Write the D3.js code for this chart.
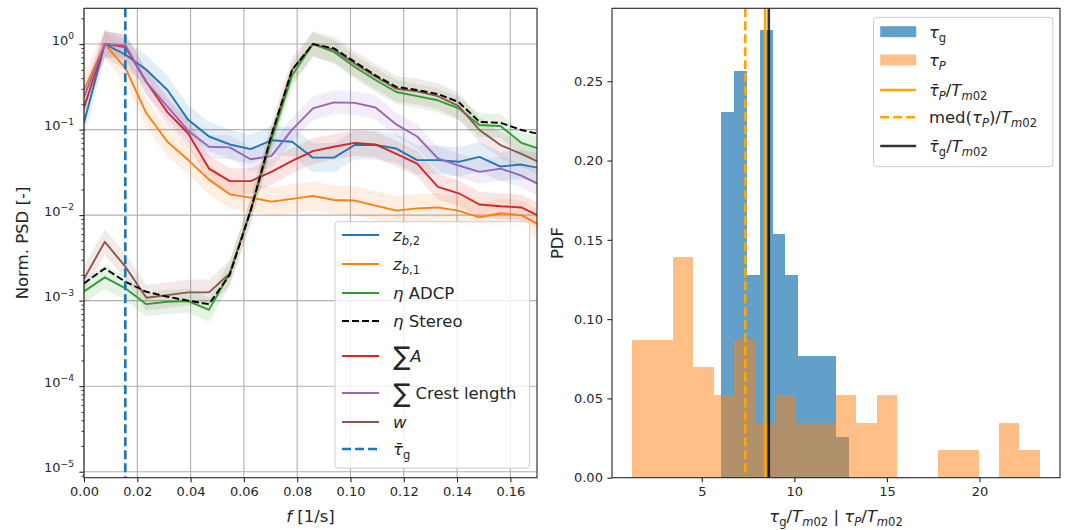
<!DOCTYPE html>
<html lang="en">
<head>
<meta charset="utf-8">
<title>Normalised PSD and period PDF</title>
<style>
  body { margin: 0; background: #fff; }
  svg { display: block; font-family: "DejaVu Sans", sans-serif; }
</style>
</head>
<body>
<svg id="chart" width="1072" height="530"></svg>
<script src="https://cdnjs.cloudflare.com/ajax/libs/d3/7.8.5/d3.min.js"></script>
<script>
// ---- left panel: normalised spectra (f in 1/s) ----
const freqs = [0, 0.0078, 0.0156, 0.0234, 0.0313, 0.0391, 0.0469, 0.0547, 0.0625, 0.0703, 0.0781, 0.0859,
  0.0938, 0.1016, 0.1094, 0.1172, 0.1250, 0.1328, 0.1406, 0.1484, 0.1563, 0.1641, 0.1719];
const zb2 = [0.12, 1.0, 0.75, 0.50, 0.29, 0.13, 0.083, 0.067, 0.059, 0.075, 0.072, 0.047,
  0.047, 0.066, 0.066, 0.060, 0.044, 0.044, 0.042, 0.048, 0.037, 0.039, 0.035];
const zb1 = [0.29, 1.0, 0.52, 0.155, 0.072, 0.044, 0.026, 0.0175, 0.016, 0.0144, 0.0155, 0.0168,
  0.015, 0.0148, 0.0129, 0.0113, 0.012, 0.0123, 0.0112, 0.0094, 0.0105, 0.010, 0.0074];
const etaAdcp = [0.00128, 0.00187, 0.00139, 0.00091, 0.00097, 0.00099, 0.00078, 0.0021, 0.0112, 0.075, 0.43, 1.0,
  0.81, 0.54, 0.38, 0.275, 0.246, 0.22, 0.177, 0.113, 0.11, 0.07, 0.058];
const etaStereo = [0.00159, 0.00238, 0.00166, 0.00127, 0.00111, 0.0010, 0.00091, 0.0020, 0.0112, 0.085, 0.50, 1.0,
  0.89, 0.62, 0.43, 0.316, 0.29, 0.26, 0.21, 0.123, 0.12, 0.099, 0.087];
const sumA = [0.18, 1.0, 0.92, 0.36, 0.16, 0.09, 0.035, 0.025, 0.025, 0.032, 0.043, 0.056,
  0.063, 0.070, 0.067, 0.052, 0.040, 0.0214, 0.018, 0.0133, 0.0127, 0.0123, 0.0094];
const sumCrest = [0.24, 1.0, 0.96, 0.36, 0.185, 0.097, 0.063, 0.062, 0.045, 0.049, 0.10, 0.177,
  0.208, 0.205, 0.181, 0.115, 0.083, 0.046, 0.038, 0.032, 0.035, 0.029, 0.022];
const wSpec = [0.0018, 0.00487, 0.00248, 0.00108, 0.00116, 0.00125, 0.00125, 0.00208, 0.0112, 0.085, 0.50, 1.0,
  0.86, 0.59, 0.415, 0.30, 0.28, 0.246, 0.188, 0.099, 0.066, 0.052, 0.04];
// half width of the shaded band, in decades
const bandSpread = [0.17, 0.17, 0.14, 0, 0.15, 0.14, 0.15];
const tauGFreq = 0.0155;
const xTicksL = [0, 0.02, 0.04, 0.06, 0.08, 0.10, 0.12, 0.14, 0.16];
const yTicksL = [1e-5, 1e-4, 1e-3, 1e-2, 1e-1, 1];
const yTickExp = ['−5', '−4', '−3', '−2', '−1', '0'];

// ---- right panel: histograms of tau / Tm02 ----
const tauGEdges = [6.06, 6.75, 7.44, 8.13, 8.82, 9.51, 10.2, 10.89, 11.58, 12.27, 12.96];
const tauGDensity = [0.2307, 0.2563, 0.128, 0.2821, 0.1538, 0.128, 0.0769, 0.0769, 0.0769, 0.0256];
const tauPEdges = [1.25, 2.35, 3.45, 4.55, 5.65, 6.75, 7.85, 8.95, 10.05, 11.15, 12.25,
  13.35, 14.45, 15.55, 16.65, 17.75, 18.85, 19.95, 21.05, 22.15, 23.25];
const tauPDensity = [0.087, 0.087, 0.139, 0.0695, 0.052, 0.087, 0.0348, 0.052, 0.0348, 0.0348,
  0.052, 0.0348, 0.052, 0, 0, 0.0174, 0.0174, 0, 0.0348, 0.0174];
const meanTauP = 8.42;
const medTauP = 7.35;
const meanTauG = 8.62;
const xTicksR = [5, 10, 15, 20];
const yTicksR = [0, 0.05, 0.10, 0.15, 0.20, 0.25];

const svg = d3.select('#chart');
const FS_TICK = 13, FS_LAB = 16.5;
const L = {x0: 84, x1: 537, y0: 8.3, y1: 477.7};
const R = {x0: 612, x1: 1060, y0: 8.3, y1: 477.7};

const xL = d3.scaleLinear().domain([0, 0.17]).range([L.x0, L.x1]);
const yL = d3.scaleLog().domain([Math.pow(10, -5.07), Math.pow(10, 0.418)]).range([L.y1, L.y0]);
const xR = d3.scaleLinear().domain([0.15, 24.35]).range([R.x0, R.x1]);
const yR = d3.scaleLinear().domain([0, 0.296]).range([R.y1, R.y0]);

// mathtext-ish labels made of tspans
function rich(text, parts, fs) {
  let shift = 0;
  parts.forEach(function(p) {
    const size = p.s ? fs * p.s : ((p.sub || p.sup) ? fs * 0.7 : fs);
    const target = (p.sub ? fs * 0.24 : p.sup ? -fs * 0.42 : 0) + (p.dy || 0);
    text.append('tspan')
      .attr('dy', target - shift)
      .attr('font-size', size)
      .attr('font-style', p.i ? 'italic' : null)
      .text(p.t);
    shift = target;
  });
}

function styleAxis(g) {
  g.attr('font-family', null).attr('font-size', FS_TICK).attr('color', '#262626');
  g.select('.domain').remove();
  g.selectAll('.tick line').attr('stroke-width', 1.1);
}

// ================= left panel =================
const left = svg.append('g');
left.append('defs').append('clipPath').attr('id', 'clipL')
  .append('rect').attr('x', L.x0).attr('y', L.y0).attr('width', L.x1 - L.x0).attr('height', L.y1 - L.y0);

// grid
left.append('g').selectAll('line.gx').data(xTicksL).join('line')
  .attr('x1', d => xL(d)).attr('x2', d => xL(d)).attr('y1', L.y0).attr('y2', L.y1)
  .attr('stroke', '#b0b0b0').attr('stroke-width', 1.1);
left.append('g').selectAll('line.gy').data(yTicksL).join('line')
  .attr('y1', d => yL(d)).attr('y2', d => yL(d)).attr('x1', L.x0).attr('x2', L.x1)
  .attr('stroke', '#b0b0b0').attr('stroke-width', 1.1);

const series = [
  {name: 'zb2', vals: zb2, color: '#1f77b4'},
  {name: 'zb1', vals: zb1, color: '#ff7f0e'},
  {name: 'adcp', vals: etaAdcp, color: '#2ca02c'},
  {name: 'stereo', vals: etaStereo, color: '#000000', dash: '7,3'},
  {name: 'sumA', vals: sumA, color: '#d62728'},
  {name: 'crest', vals: sumCrest, color: '#9467bd'},
  {name: 'w', vals: wSpec, color: '#8c564b'}
];

const plotL = left.append('g').attr('clip-path', 'url(#clipL)');
series.forEach(function(s, i) {
  const k = Math.pow(10, bandSpread[i]);
  if (bandSpread[i] > 0) {
    const area = d3.area()
      .x((d, j) => xL(freqs[j]))
      .y0(d => yL(d / k))
      .y1(d => yL(d * k));
    plotL.append('path').datum(s.vals)
      .attr('d', area).attr('fill', s.color).attr('fill-opacity', 0.12);
  }
});
const lineL = d3.line().x((d, j) => xL(freqs[j])).y(d => yL(d));
// draw order: coloured lines first, dashed stereo on top
[0, 1, 2, 4, 5, 6, 3].forEach(function(i) {
  const s = series[i];
  plotL.append('path').datum(s.vals)
    .attr('d', lineL).attr('fill', 'none').attr('stroke', s.color)
    .attr('stroke-width', 1.9).attr('stroke-dasharray', s.dash || null)
    .attr('stroke-linejoin', 'round');
});
plotL.append('line')
  .attr('x1', xL(tauGFreq)).attr('x2', xL(tauGFreq)).attr('y1', L.y0).attr('y2', L.y1)
  .attr('stroke', '#1f77b4').attr('stroke-width', 2.7).attr('stroke-dasharray', '9,4');

// axes
const gxL = left.append('g').attr('transform', 'translate(0,' + L.y1 + ')')
  .call(d3.axisBottom(xL).tickValues(xTicksL).tickFormat(d3.format('.2f')).tickSize(4.6).tickPadding(4));
styleAxis(gxL);

const minorL = [];
for (let e = -6; e <= 0; e++) for (let m = 2; m <= 9; m++) {
  const v = m * Math.pow(10, e);
  if (v >= yL.domain()[0] && v <= yL.domain()[1]) minorL.push(v);
}
const gyLm = left.append('g').attr('transform', 'translate(' + L.x0 + ',0)')
  .call(d3.axisLeft(yL).tickValues(minorL).tickFormat('').tickSize(2.6));
styleAxis(gyLm);
gyLm.selectAll('.tick line').attr('stroke-width', 0.9);
const gyL = left.append('g').attr('transform', 'translate(' + L.x0 + ',0)')
  .call(d3.axisLeft(yL).tickValues(yTicksL).tickFormat('').tickSize(4.6));
styleAxis(gyL);
gyL.selectAll('.tick').each(function(d, i) {
  const t = d3.select(this).append('text').attr('fill', 'currentColor')
    .attr('x', -10).attr('dy', '0.36em').attr('text-anchor', 'end');
  rich(t, [{t: '10'}, {t: yTickExp[i], sup: 1}], FS_TICK);
});

left.append('rect').attr('x', L.x0).attr('y', L.y0).attr('width', L.x1 - L.x0).attr('height', L.y1 - L.y0)
  .attr('fill', 'none').attr('stroke', '#262626').attr('stroke-width', 1.1);

const xlabL = left.append('text').attr('x', (L.x0 + L.x1) / 2).attr('y', 522)
  .attr('text-anchor', 'middle').attr('fill', '#262626');
rich(xlabL, [{t: 'f', i: 1}, {t: ' [1/s]'}], FS_LAB);
left.append('text').attr('transform', 'translate(22,' + ((L.y0 + L.y1) / 2) + ') rotate(-90)')
  .attr('text-anchor', 'middle').attr('dominant-baseline', 'central')
  .attr('font-size', FS_LAB).attr('fill', '#262626').text('Norm. PSD [-]');

// left legend
const legL = left.append('g');
legL.append('rect').attr('x', 335).attr('y', 221.7).attr('width', 194.6).attr('height', 246.3)
  .attr('rx', 3).attr('fill', '#fff').attr('fill-opacity', 0.8).attr('stroke', '#cccccc').attr('stroke-width', 1);
const legLRows = [235, 264, 293, 321, 356, 393, 422, 449];
const legLColors = ['#1f77b4', '#ff7f0e', '#2ca02c', '#000000', '#d62728', '#9467bd', '#8c564b', '#1f77b4'];
const legLDash = [null, null, null, '7,3', null, null, null, '9,4'];
const legLLabels = [
  [{t: 'z', i: 1}, {t: 'b', i: 1, sub: 1}, {t: ',2', sub: 1}],
  [{t: 'z', i: 1}, {t: 'b', i: 1, sub: 1}, {t: ',1', sub: 1}],
  [{t: 'η', i: 1}, {t: ' ADCP'}],
  [{t: 'η', i: 1}, {t: ' Stereo'}],
  [{t: '∑', s: 1.55, dy: 3}, {t: 'A', i: 1}],
  [{t: '∑', s: 1.55, dy: 3}, {t: ' Crest length'}],
  [{t: 'w', i: 1}],
  [{t: 'τ̄', i: 1}, {t: 'g', sub: 1}]
];
legLRows.forEach(function(y, i) {
  legL.append('line').attr('x1', 342).attr('x2', 379).attr('y1', y).attr('y2', y)
    .attr('stroke', legLColors[i]).attr('stroke-width', i === 7 ? 2.7 : 1.9)
    .attr('stroke-dasharray', legLDash[i]);
  const t = legL.append('text').attr('x', 393).attr('y', y + 6).attr('fill', '#262626');
  rich(t, legLLabels[i], FS_LAB);
});

// ================= right panel =================
const right = svg.append('g');
right.append('g').attr('shape-rendering', 'crispEdges').selectAll('rect').data(tauGDensity).join('rect')
  .attr('x', (d, i) => xR(tauGEdges[i]))
  .attr('width', (d, i) => xR(tauGEdges[i + 1]) - xR(tauGEdges[i]))
  .attr('y', d => yR(d)).attr('height', d => yR(0) - yR(d))
  .attr('fill', '#1f77b4').attr('fill-opacity', 0.7);
right.append('g').attr('shape-rendering', 'crispEdges').selectAll('rect').data(tauPDensity).join('rect')
  .attr('x', (d, i) => xR(tauPEdges[i]))
  .attr('width', (d, i) => xR(tauPEdges[i + 1]) - xR(tauPEdges[i]))
  .attr('y', d => yR(d)).attr('height', d => yR(0) - yR(d))
  .attr('fill', '#ff7f0e').attr('fill-opacity', 0.5);

right.append('line').attr('x1', xR(meanTauP)).attr('x2', xR(meanTauP)).attr('y1', R.y0).attr('y2', R.y1)
  .attr('stroke', '#ffa500').attr('stroke-width', 2.6);
right.append('line').attr('x1', xR(medTauP)).attr('x2', xR(medTauP)).attr('y1', R.y0).attr('y2', R.y1)
  .attr('stroke', '#ffa500').attr('stroke-width', 2.6).attr('stroke-dasharray', '9,4');
right.append('line').attr('x1', xR(meanTauG)).attr('x2', xR(meanTauG)).attr('y1', R.y0).attr('y2', R.y1)
  .attr('stroke', '#000').attr('stroke-opacity', 0.8).attr('stroke-width', 2.6);

const gxR = right.append('g').attr('transform', 'translate(0,' + R.y1 + ')')
  .call(d3.axisBottom(xR).tickValues(xTicksR).tickFormat(d3.format('d')).tickSize(4.6).tickPadding(4));
styleAxis(gxR);
const gyR = right.append('g').attr('transform', 'translate(' + R.x0 + ',0)')
  .call(d3.axisLeft(yR).tickValues(yTicksR).tickFormat(d3.format('.2f')).tickSize(4.6).tickPadding(4.5));
styleAxis(gyR);

right.append('rect').attr('x', R.x0).attr('y', R.y0).attr('width', R.x1 - R.x0).attr('height', R.y1 - R.y0)
  .attr('fill', 'none').attr('stroke', '#262626').attr('stroke-width', 1.1);

const xlabR = right.append('text').attr('x', (R.x0 + R.x1) / 2).attr('y', 522)
  .attr('text-anchor', 'middle').attr('fill', '#262626');
rich(xlabR, [{t: 'τ', i: 1}, {t: 'g', sub: 1}, {t: '/'}, {t: 'T', i: 1}, {t: 'm', i: 1, sub: 1}, {t: '02', sub: 1},
  {t: ' | '}, {t: 'τ', i: 1}, {t: 'P', i: 1, sub: 1}, {t: '/'}, {t: 'T', i: 1}, {t: 'm', i: 1, sub: 1}, {t: '02', sub: 1}], FS_LAB);
right.append('text').attr('transform', 'translate(557,' + ((R.y0 + R.y1) / 2) + ') rotate(-90)')
  .attr('text-anchor', 'middle').attr('dominant-baseline', 'central')
  .attr('font-size', FS_LAB).attr('fill', '#262626').text('PDF');

// right legend
const legR = right.append('g');
legR.append('rect').attr('x', 873.5).attr('y', 17.3).attr('width', 179.4).attr('height', 149.4)
  .attr('rx', 3).attr('fill', '#fff').attr('fill-opacity', 0.8).attr('stroke', '#cccccc').attr('stroke-width', 1);
const legRRows = [31.7, 60, 90, 117.3, 146];
const legRLabels = [
  [{t: 'τ', i: 1}, {t: 'g', sub: 1}],
  [{t: 'τ', i: 1}, {t: 'P', i: 1, sub: 1}],
  [{t: 'τ̄', i: 1}, {t: 'P', i: 1, sub: 1}, {t: '/'}, {t: 'T', i: 1}, {t: 'm', i: 1, sub: 1}, {t: '02', sub: 1}],
  [{t: 'med('}, {t: 'τ', i: 1}, {t: 'P', i: 1, sub: 1}, {t: ')/'}, {t: 'T', i: 1}, {t: 'm', i: 1, sub: 1}, {t: '02', sub: 1}],
  [{t: 'τ̄', i: 1}, {t: 'g', sub: 1}, {t: '/'}, {t: 'T', i: 1}, {t: 'm', i: 1, sub: 1}, {t: '02', sub: 1}]
];
legRRows.forEach(function(y, i) {
  if (i === 0 || i === 1) {
    legR.append('rect').attr('x', 880.2).attr('y', y - 5.5).attr('width', 36).attr('height', 11)
      .attr('fill', i === 0 ? '#1f77b4' : '#ff7f0e').attr('fill-opacity', i === 0 ? 0.7 : 0.5);
  } else {
    legR.append('line').attr('x1', 880.2).attr('x2', 916.2).attr('y1', y).attr('y2', y)
      .attr('stroke', i === 4 ? '#000' : '#ffa500').attr('stroke-opacity', i === 4 ? 0.8 : 1)
      .attr('stroke-width', 2.6).attr('stroke-dasharray', i === 3 ? '9,4' : null);
  }
  const t = legR.append('text').attr('x', 928.9).attr('y', y + 6).attr('fill', '#262626');
  rich(t, legRLabels[i], FS_LAB);
});
</script>
</body>
</html>
